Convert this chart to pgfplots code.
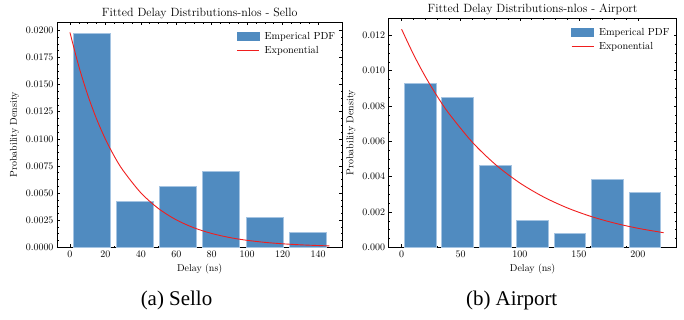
\documentclass[border=0pt]{standalone}
\usepackage{fontspec}
\usepackage{pgfplots}
\pgfplotsset{compat=1.18}
\newfontfamily\timesf{Liberation Serif}
\definecolor{barblue}{RGB}{80,139,192}
\definecolor{baredge}{RGB}{165,196,226}
\definecolor{curvered}{RGB}{240,30,30}
\pgfplotsset{
  every axis title/.style={at={(0.5,1)}, anchor=base, yshift=6.2bp, inner sep=0pt, font=\fontsize{12}{14}\selectfont},
  myax/.style={
    scale only axis,
    axis line style={line width=0.6bp},
    every tick/.style={black, line width=0.5bp},
    major tick length=3bp,
    minor tick length=1.6bp,
    tick align=inside,
    xtick pos=both, ytick pos=both,
    scaled y ticks=false,
    tick label style={font=\fontsize{10}{12}\selectfont},
    label style={font=\fontsize{10}{12}\selectfont},
    xlabel={Delay (ns)},
    ylabel={Probability Density},
    ymin=0,
    legend cell align=left,
    legend style={draw=none, fill=none, at={(1,1)}, anchor=north east, xshift=-3bp, yshift=-6bp,
      font=\fontsize{10.3}{12}\selectfont, row sep=1bp, column sep=3bp, inner sep=2bp},
  },
  barplot/.style={ybar, bar shift=0pt, fill=barblue, draw=baredge, line width=0.8bp,
    legend image code/.code={\fill[barblue] (0bp,-3.8bp) rectangle (22bp,4bp);}},
  curveplot/.style={curvered, line width=0.9bp, smooth, no marks,
    legend image code/.code={\draw[curvered, line width=0.9bp] (0bp,0bp) -- (22bp,0bp);}},
}
\begin{document}
\begin{tikzpicture}
\useasboundingbox (0,0) rectangle (684bp,320bp);
% ---------------- Sello ----------------
\begin{axis}[myax,
  at={(57bp,72.7bp)}, anchor=south west,
  width=285.3bp, height=225bp,
  xmin=-7.3, xmax=153.7, ymax=0.02074,
  xtick={0,20,...,140}, minor x tick num=3,
  ytick={0,0.0025,0.005,0.0075,0.01,0.0125,0.015,0.0175,0.02}, minor y tick num=3,
  yticklabel style={/pgf/number format/.cd, fixed, fixed zerofill, precision=4},
  title={Fitted Delay Distributions-nlos - Sello},
]
\addplot[barplot, bar width=20.8] coordinates {
  (12.2,0.01972) (36.6,0.00420) (61.0,0.00562) (85.4,0.00703) (109.8,0.00276) (134.2,0.00138)};
\addlegendentry{Emperical PDF}
\addplot[curveplot] coordinates {
  (0,0.01981) (5,0.016688) (10,0.014057) (15,0.011843) (20,0.009976) (25,0.008404)
  (30,0.007080) (40,0.005024) (50,0.003566) (60,0.002530) (70,0.001795) (80,0.001274)
  (90,0.000904) (100,0.000642) (110,0.000455) (120,0.000323) (130,0.000229) (140,0.000163) (146.4,0.000131)};
\addlegendentry{Exponential}
\end{axis}
% ---------------- Airport ----------------
\begin{axis}[myax,
  at={(388.5bp,72.7bp)}, anchor=south west,
  width=288.2bp, height=229bp,
  xmin=-11.1, xmax=232.8, ymax=0.01296,
  xtick={0,50,...,200}, minor x tick num=4,
  ytick={0,0.002,...,0.012}, minor y tick num=3,
  yticklabel style={/pgf/number format/.cd, fixed, fixed zerofill, precision=3},
  title={Fitted Delay Distributions-nlos - Airport},
]
\addplot[barplot, bar width=26.9] coordinates {
  (15.84,0.00927) (47.5,0.00850) (79.2,0.00465) (110.8,0.00154) (142.5,0.00079) (174.2,0.00384) (205.9,0.00310)};
\addlegendentry{Emperical PDF}
\addplot[curveplot] coordinates {
  (0,0.01234) (10,0.010923) (20,0.009668) (30,0.008560) (40,0.007575) (60,0.005936) (80,0.004650)
  (100,0.003643) (120,0.002854) (140,0.002236) (160,0.001752) (180,0.001373) (200,0.001076) (221.7,0.000826)};
\addlegendentry{Exponential}
\end{axis}
\node[font=\timesf\fontsize{21}{24}\selectfont, anchor=base] at (176.5bp,15bp) {(a) Sello};
\node[font=\timesf\fontsize{21}{24}\selectfont, anchor=base] at (511.7bp,15bp) {(b) Airport};
\end{tikzpicture}
\end{document}
